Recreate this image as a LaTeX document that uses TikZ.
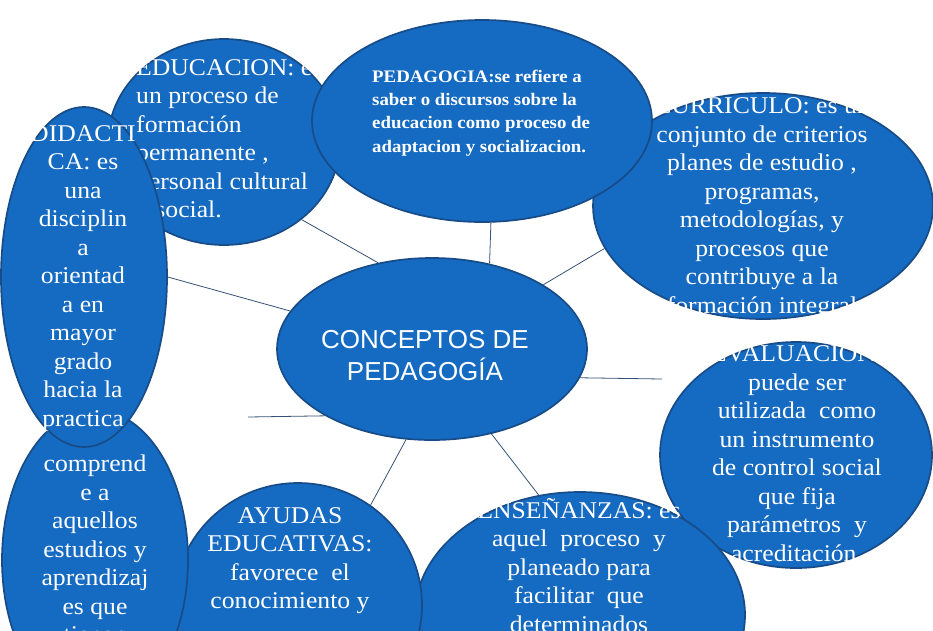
\documentclass[tikz,border=0pt]{standalone}
\usepackage{fontspec}
\setmainfont[FakeStretch=1.07]{Liberation Serif}
\newfontfamily\hubfont{Liberation Sans}
\usetikzlibrary{shapes.geometric}
\definecolor{bubblefill}{RGB}{21,106,193}
\definecolor{bubbleline}{RGB}{24,76,136}
\definecolor{linkline}{RGB}{52,82,118}

\begin{document}
\begin{tikzpicture}[x=1pt,y=-1pt,%
  BubbleStyle/.style={shape=ellipse,fill=bubblefill,draw=bubbleline,line width=1.7pt,inner sep=0pt},
  TextStyle/.style={text=white,inner sep=0pt,font=\fontsize{24}{28.5}\selectfont},
  LinkStyle/.style={draw=linkline,line width=0.8pt}]
  \clip (0,0) rectangle (933,630);
  \node[BubbleStyle,minimum width=272pt,minimum height=226pt] (evaluacion) at (796,455) {}; % right, lower
  \node[TextStyle,align=center] (tevaluacion) at (797,453.5) {EVALUACION:\\puede ser\\utilizada~ como\\un instrumento\\de control social\\que fija\\parámetros~ y\\acreditación.};
  \node[BubbleStyle,minimum width=330pt,minimum height=246pt] (ensenanzas) at (580,615) {}; % bottom, middle
  \node[TextStyle,align=center] (tensenanzas) at (579,565.5) {ENSEÑANZAS: es\\aquel~ proceso~ y\\planeado para\\facilitar~ que\\determinados};
  \node[BubbleStyle,minimum width=248pt,minimum height=244pt] (ayudas) at (298,605) {}; % bottom, left of ensenanzas
  \node[TextStyle,align=center] (tayudas) at (290,560.5) {AYUDAS\\EDUCATIVAS:\\favorece~ el\\conocimiento y};
  \node[BubbleStyle,minimum width=186pt,minimum height=300pt] (comprende) at (95,560) {}; % bottom left corner
  \node[TextStyle,align=center] (tcomprende) at (95,549) {comprend\\e a\\aquellos\\estudios y\\aprendizaj\\es que\\tienen};
  \node[BubbleStyle,minimum width=340pt,minimum height=226pt] (curriculo) at (763,206) {}; % right, upper
  \node[TextStyle,align=center] (tcurriculo) at (762,208) {CURRICULO: es un\\conjunto de criterios\\planes de estudio ,\\programas,\\metodologías, y\\procesos que\\contribuye a la\\formación integral};
  \node[BubbleStyle,minimum width=232pt,minimum height=206pt] (educacion) at (224,142) {}; % top left
  \node[TextStyle,align=left,anchor=west] (teducacion) at (136,141) {EDUCACION: es\\un proceso de\\formación\\permanente ,\\personal cultural\\y social.};
  \node[BubbleStyle,minimum width=340pt,minimum height=202pt] (pedagogia) at (482,121) {}; % top middle
  \node[TextStyle,align=left,anchor=west,font=\bfseries\fontsize{17.6}{23.3}\selectfont] (tpedagogia) at (372,113) {PEDAGOGIA:se refiere a\\saber o discursos sobre la\\educacion como proceso de\\adaptacion y socializacion.};
  \node[BubbleStyle,minimum width=166pt,minimum height=340pt] (didactica) at (84,277) {}; % left, tall
  \node[TextStyle,align=center] (tdidactica) at (83,278.5) {DIDACTI\\CA: es\\una\\disciplin\\a\\orientad\\a en\\mayor\\grado\\hacia la\\practica};
  \node[BubbleStyle,minimum width=310pt,minimum height=182pt] (centro) at (432,349) {}; % the hub
  \node[TextStyle,align=center,font=\hubfont\fontsize{26}{32}\selectfont] (tcentro) at (425,356) {CONCEPTOS DE\\PEDAGOGÍA};
  % links from the hub
  \coordinate (evalend) at (662,379);
  \coordinate (leftend) at (248,417);
  \draw[LinkStyle] (educacion.-45.7) -- (centro.122);
  \draw[LinkStyle] (didactica.0) -- (centro.165.7);
  \draw[LinkStyle] (pedagogia.-85) -- (centro.56);
  \draw[LinkStyle] (curriculo.-165.5) -- (centro.30);
  \draw[LinkStyle] (centro.-11.5) -- (evalend);
  \draw[LinkStyle] (centro.-55) -- (ensenanzas.109.3);
  \draw[LinkStyle] (centro.254.3) -- (ayudas.54.8);
  \draw[LinkStyle] (centro.212.2) -- (leftend);
\end{tikzpicture}
\end{document}
